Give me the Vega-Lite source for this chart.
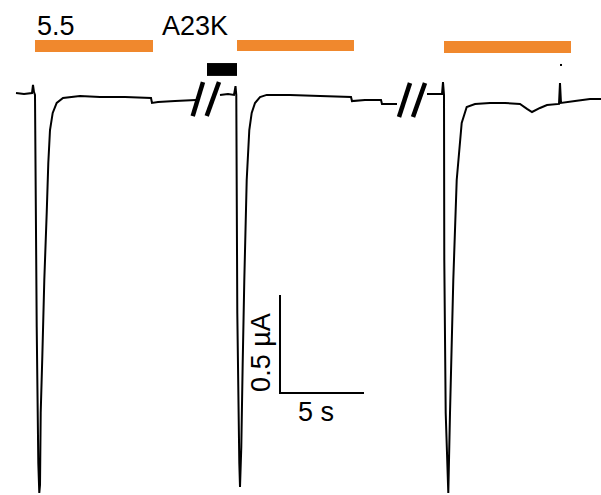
{
  "$schema": "https://vega.github.io/schema/vega-lite/v6.json",
  "width": 601,
  "height": 495,
  "padding": 0,
  "autosize": {"type": "none"},
  "background": "white",
  "config": {"view": {"stroke": null}},
  "layer": [
    {
      "data": {"values": [
        {"t1": 2.083, "t2": 9.107, "i1": 0.276, "i2": 0.214, "c": "#f0882d"},
        {"t1": 14.107, "t2": 21.071, "i1": 0.276, "i2": 0.219, "c": "#f0882d"},
        {"t1": 26.429, "t2": 33.988, "i1": 0.271, "i2": 0.208, "c": "#f0882d"},
        {"t1": 12.321, "t2": 14.107, "i1": 0.156, "i2": 0.089, "c": "#000000"}
      ]},
      "mark": {"type": "rect"},
      "encoding": {
        "x": {"field": "t1", "type": "quantitative", "scale": {"domain": [0, 35.774], "nice": false, "zero": false}, "axis": null},
        "x2": {"field": "t2"},
        "y": {"field": "i1", "type": "quantitative", "scale": {"domain": [-2.09375, 0.484375], "nice": false, "zero": false}, "axis": null},
        "y2": {"field": "i2"},
        "color": {"field": "c", "type": "nominal", "scale": null}
      }
    },
    {
      "data": {"values": [
        {"s": 1, "o": 1, "t": 0.952, "i": 0},
        {"s": 1, "o": 2, "t": 1.429, "i": -0.005},
        {"s": 1, "o": 3, "t": 1.905, "i": 0},
        {"s": 1, "o": 4, "t": 1.964, "i": 0.042},
        {"s": 1, "o": 5, "t": 2.024, "i": 0.005},
        {"s": 1, "o": 6, "t": 2.083, "i": -0.010},
        {"s": 1, "o": 7, "t": 2.185, "i": -1.219},
        {"s": 1, "o": 8, "t": 2.280, "i": -1.927},
        {"s": 1, "o": 9, "t": 2.339, "i": -2.083},
        {"s": 1, "o": 10, "t": 2.381, "i": -2.042},
        {"s": 1, "o": 11, "t": 2.423, "i": -1.667},
        {"s": 1, "o": 12, "t": 2.518, "i": -1.375},
        {"s": 1, "o": 13, "t": 2.637, "i": -0.974},
        {"s": 1, "o": 14, "t": 2.780, "i": -0.625},
        {"s": 1, "o": 15, "t": 2.875, "i": -0.365},
        {"s": 1, "o": 16, "t": 2.976, "i": -0.193},
        {"s": 1, "o": 17, "t": 3.137, "i": -0.104},
        {"s": 1, "o": 18, "t": 3.375, "i": -0.052},
        {"s": 1, "o": 19, "t": 3.750, "i": -0.026},
        {"s": 1, "o": 20, "t": 4.762, "i": -0.016},
        {"s": 1, "o": 21, "t": 5.952, "i": -0.021},
        {"s": 1, "o": 22, "t": 7.440, "i": -0.021},
        {"s": 1, "o": 23, "t": 8.988, "i": -0.026},
        {"s": 1, "o": 24, "t": 9.048, "i": -0.052},
        {"s": 1, "o": 25, "t": 9.405, "i": -0.047},
        {"s": 1, "o": 26, "t": 10.417, "i": -0.042},
        {"s": 1, "o": 27, "t": 11.667, "i": -0.036},
        {"s": 2, "o": 1, "t": 13.095, "i": -0.010},
        {"s": 2, "o": 2, "t": 13.571, "i": -0.005},
        {"s": 2, "o": 3, "t": 13.929, "i": -0.010},
        {"s": 2, "o": 4, "t": 14.018, "i": 0.036},
        {"s": 2, "o": 5, "t": 14.065, "i": -0.010},
        {"s": 2, "o": 6, "t": 14.125, "i": -1.146},
        {"s": 2, "o": 7, "t": 14.244, "i": -1.927},
        {"s": 2, "o": 8, "t": 14.286, "i": -2.052},
        {"s": 2, "o": 9, "t": 14.363, "i": -1.844},
        {"s": 2, "o": 10, "t": 14.446, "i": -1.406},
        {"s": 2, "o": 11, "t": 14.542, "i": -0.974},
        {"s": 2, "o": 12, "t": 14.685, "i": -0.453},
        {"s": 2, "o": 13, "t": 14.839, "i": -0.193},
        {"s": 2, "o": 14, "t": 14.982, "i": -0.104},
        {"s": 2, "o": 15, "t": 15.179, "i": -0.052},
        {"s": 2, "o": 16, "t": 15.476, "i": -0.021},
        {"s": 2, "o": 17, "t": 15.875, "i": -0.010},
        {"s": 2, "o": 18, "t": 17.262, "i": -0.010},
        {"s": 2, "o": 19, "t": 19.048, "i": -0.016},
        {"s": 2, "o": 20, "t": 20.893, "i": -0.021},
        {"s": 2, "o": 21, "t": 20.952, "i": -0.042},
        {"s": 2, "o": 22, "t": 21.726, "i": -0.036},
        {"s": 2, "o": 23, "t": 22.679, "i": -0.036},
        {"s": 2, "o": 24, "t": 22.738, "i": -0.057},
        {"s": 2, "o": 25, "t": 23.631, "i": -0.057},
        {"s": 3, "o": 1, "t": 25.417, "i": -0.005},
        {"s": 3, "o": 2, "t": 25.893, "i": -0.005},
        {"s": 3, "o": 3, "t": 26.310, "i": -0.005},
        {"s": 3, "o": 4, "t": 26.369, "i": 0.057},
        {"s": 3, "o": 5, "t": 26.429, "i": -0.010},
        {"s": 3, "o": 6, "t": 26.446, "i": -0.870},
        {"s": 3, "o": 7, "t": 26.530, "i": -1.667},
        {"s": 3, "o": 8, "t": 26.685, "i": -2.083},
        {"s": 3, "o": 9, "t": 26.786, "i": -1.667},
        {"s": 3, "o": 10, "t": 26.982, "i": -0.974},
        {"s": 3, "o": 11, "t": 27.185, "i": -0.453},
        {"s": 3, "o": 12, "t": 27.482, "i": -0.156},
        {"s": 3, "o": 13, "t": 27.780, "i": -0.073},
        {"s": 3, "o": 14, "t": 28.274, "i": -0.057},
        {"s": 3, "o": 15, "t": 29.167, "i": -0.052},
        {"s": 3, "o": 16, "t": 30.060, "i": -0.052},
        {"s": 3, "o": 17, "t": 30.952, "i": -0.057},
        {"s": 3, "o": 18, "t": 31.369, "i": -0.083},
        {"s": 3, "o": 19, "t": 31.667, "i": -0.099},
        {"s": 3, "o": 20, "t": 32.143, "i": -0.078},
        {"s": 3, "o": 21, "t": 32.560, "i": -0.063},
        {"s": 3, "o": 22, "t": 33.274, "i": -0.057},
        {"s": 3, "o": 23, "t": 33.333, "i": 0.052},
        {"s": 3, "o": 24, "t": 33.393, "i": -0.052},
        {"s": 3, "o": 25, "t": 34.226, "i": -0.042},
        {"s": 3, "o": 26, "t": 35.119, "i": -0.031},
        {"s": 3, "o": 27, "t": 35.774, "i": -0.031}
      ]},
      "mark": {"type": "line", "color": "#000000", "strokeWidth": 2, "strokeJoin": "miter"},
      "encoding": {
        "x": {"field": "t", "type": "quantitative"},
        "y": {"field": "i", "type": "quantitative"},
        "detail": {"field": "s", "type": "nominal"},
        "order": {"field": "o", "type": "quantitative"}
      }
    },
    {
      "data": {"values": [
        {"k": "a1", "o": 1, "t": 11.470, "i": -0.120},
        {"k": "a1", "o": 2, "t": 12.083, "i": 0.057},
        {"k": "a2", "o": 1, "t": 12.304, "i": -0.120},
        {"k": "a2", "o": 2, "t": 13.036, "i": 0.057},
        {"k": "b1", "o": 1, "t": 23.750, "i": -0.125},
        {"k": "b1", "o": 2, "t": 24.405, "i": 0.052},
        {"k": "b2", "o": 1, "t": 24.583, "i": -0.125},
        {"k": "b2", "o": 2, "t": 25.298, "i": 0.052}
      ]},
      "mark": {"type": "line", "color": "#000000", "strokeWidth": 4.5, "strokeCap": "butt"},
      "encoding": {
        "x": {"field": "t", "type": "quantitative"},
        "y": {"field": "i", "type": "quantitative"},
        "detail": {"field": "k", "type": "nominal"},
        "order": {"field": "o", "type": "quantitative"}
      }
    },
    {
      "data": {"values": [
        {"o": 1, "t": 16.667, "i": -1.052},
        {"o": 2, "t": 16.667, "i": -1.5625},
        {"o": 3, "t": 21.667, "i": -1.5625}
      ]},
      "mark": {"type": "line", "color": "#000000", "strokeWidth": 2, "strokeCap": "butt", "strokeJoin": "miter"},
      "encoding": {
        "x": {"field": "t", "type": "quantitative"},
        "y": {"field": "i", "type": "quantitative"},
        "order": {"field": "o", "type": "quantitative"}
      }
    },
    {
      "data": {"values": [
        {"t": 33.393, "i": 0.146}
      ]},
      "mark": {"type": "square", "color": "#000000", "filled": true, "size": 4, "opacity": 1},
      "encoding": {
        "x": {"field": "t", "type": "quantitative"},
        "y": {"field": "i", "type": "quantitative"}
      }
    },
    {
      "data": {"values": [
        {"label": "5.5", "t": 2.202, "i": 0.302},
        {"label": "A23K", "t": 9.643, "i": 0.302},
        {"label": "5 s", "t": 17.738, "i": -1.708}
      ]},
      "mark": {"type": "text", "font": "Liberation Sans", "fontSize": 27, "color": "#000000", "baseline": "alphabetic", "align": "left"},
      "encoding": {
        "x": {"field": "t", "type": "quantitative"},
        "y": {"field": "i", "type": "quantitative"},
        "text": {"field": "label"}
      }
    },
    {
      "data": {"values": [
        {"label": "0.5 µA", "t": 16.071, "i": -1.352}
      ]},
      "mark": {"type": "text", "font": "Liberation Sans", "fontSize": 27, "color": "#000000", "baseline": "alphabetic", "align": "center", "angle": 270},
      "encoding": {
        "x": {"field": "t", "type": "quantitative"},
        "y": {"field": "i", "type": "quantitative"},
        "text": {"field": "label"}
      }
    }
  ]
}
